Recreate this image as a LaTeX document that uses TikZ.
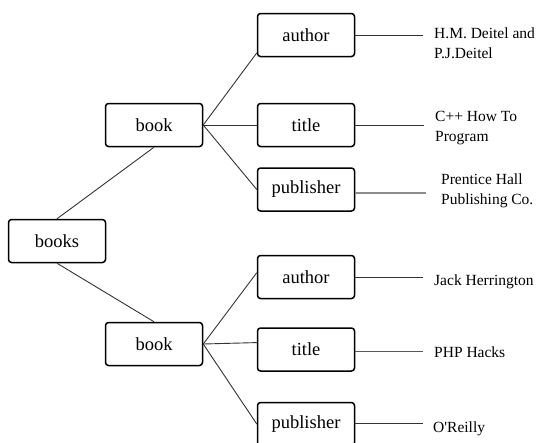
\documentclass[tikz,border=0pt]{standalone}
\usepackage{fontspec}
\setmainfont{Liberation Serif}
\begin{document}
\begin{tikzpicture}[x=1pt,y=-1pt,box/.style={draw,line width=1.5pt,rounded corners=3pt,minimum
    width=97pt,minimum height=43pt,inner sep=0pt,font=\fontsize{18.5}{20}\selectfont},
  val/.style={anchor=west,align=left,inner sep=0pt,font=\fontsize{15.5}{20}\selectfont},
  arj/.style={line width=0.9pt,black!80}]
  \useasboundingbox (0,0) rectangle (537,442);
   \node(books)[box] at (57,241) {books};
   \node(book top)[box] at (154,125) {book};
   \node(book bottom)[box] at (154,344) {book};
   \draw[arj] (books.north) -- (book top.south);
   \draw[arj] (books.south) -- (book bottom.north);

   \node(author top)[box] at (306,35) {author};
   \node(title top)[box] at (306,125) {title};
   \node(publisher top)[box] at (306,189.5) {publisher};
   \draw[arj] (book top.east) -- (author top.200);
   \draw[arj] (book top.east) -- (title top.west);
   \draw[arj] (book top.east) -- (publisher top.west);

   \node(author bottom)[box] at (306,277) {author};
   \node(title bottom)[box] at (306,349.5) {title};
   \node(publisher bottom)[box] at (306,424) {publisher};
   \draw[arj] (book bottom.east) -- (author bottom.175);
   \draw[arj] (book bottom.east) -- (title bottom.172);
   \draw[arj] (book bottom.east) -- (publisher bottom.west);

   \node(deitel)[val] at (434,43) {H.M. Deitel and\\P.J.Deitel};
   \node(cpp)[val] at (435,128) {C++ How To\\Program};
   \node(prentice)[val] at (441,191) {Prentice Hall\\Publishing Co.};
   \node(herrington)[val] at (434,281.5) {Jack Herrington};
   \node(php)[val] at (434,352) {PHP Hacks};
   \node(oreilly)[val] at (433,428.5) {O\textquotesingle Reilly};

   \draw[arj,shorten >=11pt] (author top.east) -- (author top.east -| deitel.west);
   \draw[arj,shorten >=11pt] (title top.east) -- (title top.east -| cpp.west);
   \draw[arj,line width=1.6pt,black!45,shorten >=15pt] ([yshift=-3.5pt]publisher top.east) -- ([yshift=-3.5pt]publisher top.east -| prentice.west);
   \draw[arj,shorten >=11pt] (author bottom.east) -- (author bottom.east -| herrington.west);
   \draw[arj,black!65,shorten >=11pt] ([yshift=-1.5pt]title bottom.east) -- ([yshift=-1.5pt]title bottom.east -| php.west);
   \draw[arj,shorten >=10pt] ([yshift=1pt]publisher bottom.east) -- ([yshift=1pt]publisher bottom.east -| oreilly.west);
\end{tikzpicture}
\end{document}
